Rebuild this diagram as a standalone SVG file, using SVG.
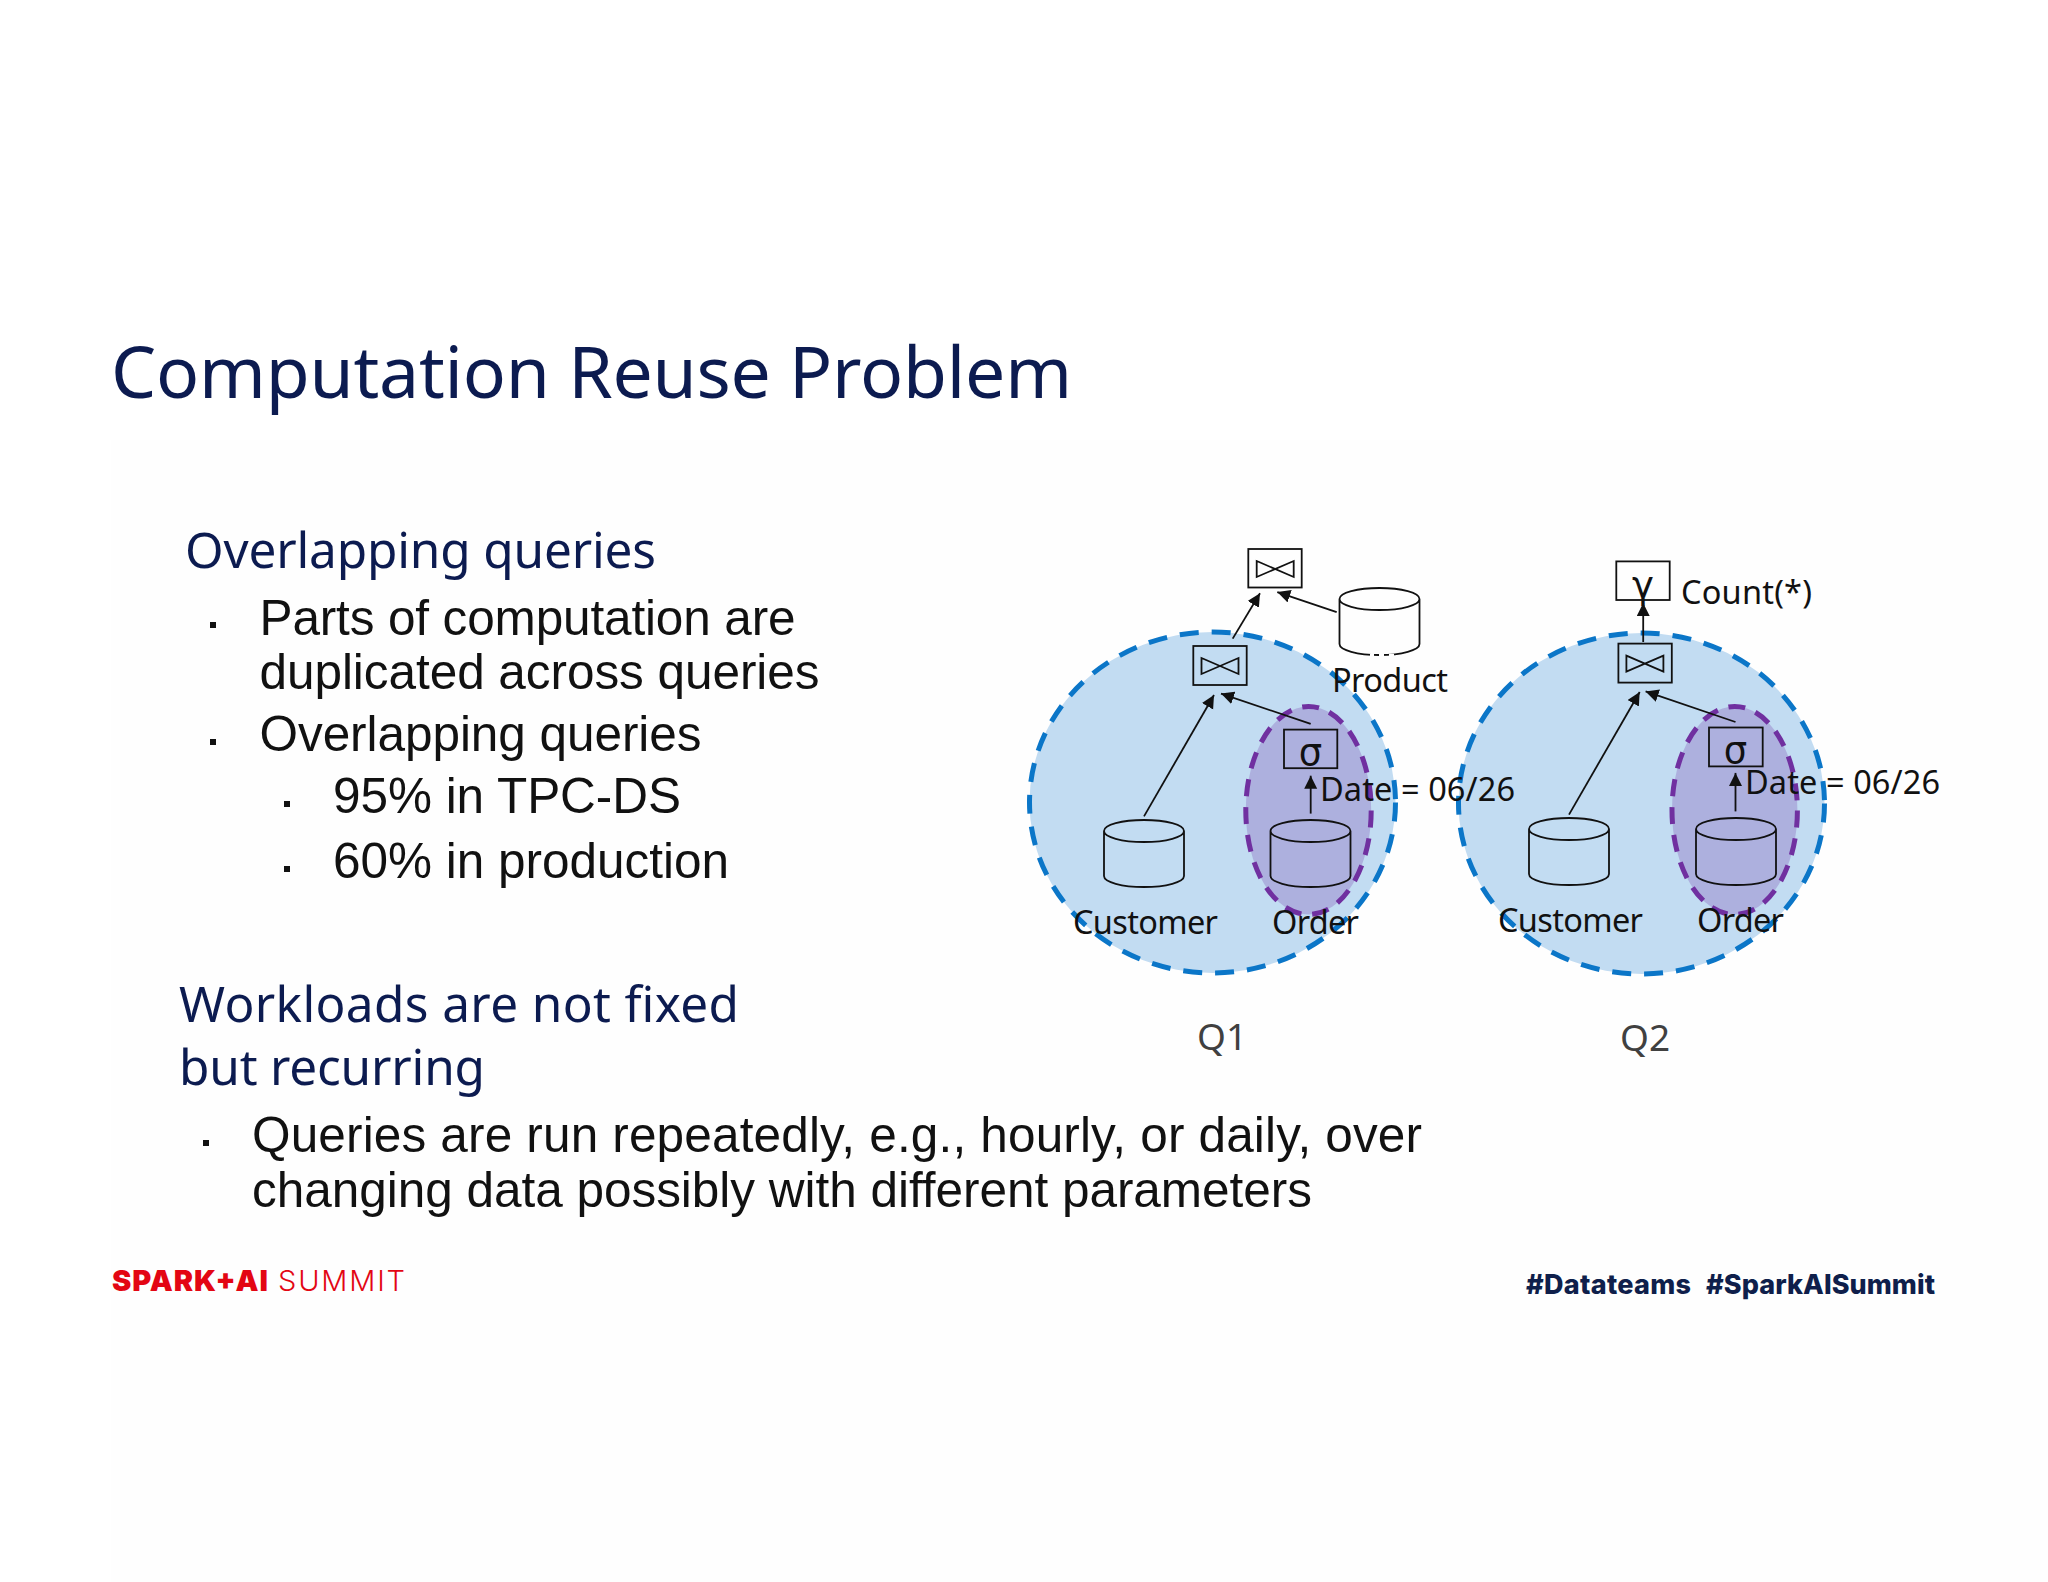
<svg xmlns="http://www.w3.org/2000/svg" width="2048" height="1582" viewBox="0 0 2048 1582">
<style>
.h{font-family:"Noto Sans","Open Sans",sans-serif;fill:#0c1b50}
.t{font-family:"Liberation Sans",Arial,sans-serif;font-size:49.5px;fill:#111}
.l{font-family:"Noto Sans","Open Sans",sans-serif;font-size:32.5px;fill:#111}
.g{font-family:"DejaVu Sans",sans-serif;font-size:37px;fill:#111;text-anchor:middle}
.q{font-family:"Noto Sans","Open Sans",sans-serif;font-size:37px;fill:#404040}
.b{fill:#111}
.big{fill:#c2dcf2;stroke:#0b76c8;stroke-width:5;stroke-dasharray:19 13}
.pur{fill:#adb0de;stroke:#7030a0;stroke-width:5;stroke-dasharray:17 11}
.box{fill:none;stroke:#111;stroke-width:1.8}
.cyl{fill:none;stroke:#111;stroke-width:1.8}
.con line{stroke:#111;stroke-width:1.8;marker-end:url(#a)}
</style>
<defs>
<marker id="a" markerUnits="userSpaceOnUse" markerWidth="14" markerHeight="14" refX="13" refY="6.5" orient="auto"><path d="M0,0L13,6.5L0,13Z" fill="#111"/></marker>
<path id="bow" class="box" d="M0,0L37,16V0L0,16Z"/>
<path id="cy" class="cyl" d="M-40,0A40,11 0 0 0 40,0A40,11 0 0 0 -40,0V45A40,11 0 0 0 40,45V0"/>
</defs>
<rect width="2048" height="1582" fill="#fff"/>
<rect x="111" y="440" width="1937" height="1142" fill="#fefefe"/>
<g id="title"><text class="h" x="111" y="398" font-size="71.5" textLength="961">Computation Reuse Problem</text></g>
<g id="left-text">
<text class="h" x="185" y="568" font-size="49.5" textLength="471">Overlapping queries</text>
<rect class="b" x="210" y="622" width="6" height="6"/>
<text class="t" x="259.5" y="635" textLength="536">Parts of computation are</text>
<text class="t" x="259.5" y="689" textLength="560">duplicated across queries</text>
<rect class="b" x="210" y="739" width="6" height="6"/>
<text class="t" x="259.5" y="751" textLength="442">Overlapping queries</text>
<rect class="b" x="284" y="801" width="6" height="6"/>
<text class="t" x="333" y="813" textLength="348">95% in TPC-DS</text>
<rect class="b" x="284" y="866" width="6" height="6"/>
<text class="t" x="333" y="878" textLength="396">60% in production</text>
<text class="h" x="179" y="1022" font-size="49.5" textLength="560">Workloads are not fixed</text>
<text class="h" x="179" y="1085" font-size="49.5" textLength="306">but recurring</text>
<rect class="b" x="203" y="1140" width="6" height="6"/>
<text class="t" x="252" y="1152" textLength="1170">Queries are run repeatedly, e.g., hourly, or daily, over</text>
<text class="t" x="252" y="1207" textLength="1060">changing data possibly with different parameters</text>
</g>
<g id="footer">
<text x="112" y="1291" font-family="Inter,sans-serif" font-weight="900" font-size="29" fill="#e30613" textLength="156">SPARK+AI</text>
<text x="278" y="1291" font-family="Inter,sans-serif" font-weight="300" font-size="29" fill="#e30613" textLength="127">SUMMIT</text>
<text x="1526" y="1294" font-family="Inter,sans-serif" font-weight="800" font-size="27" fill="#0f1f4b" textLength="165">#Datateams</text>
<text x="1706" y="1294" font-family="Inter,sans-serif" font-weight="800" font-size="27" fill="#0f1f4b" textLength="229">#SparkAISummit</text>
</g>
<g id="q1-regions">
<ellipse class="big" cx="1212.5" cy="802.5" rx="183" ry="170.5"/>
<ellipse class="pur" cx="1308.5" cy="810.5" rx="62.7" ry="104"/>
</g>
<g id="q2-regions">
<ellipse class="big" cx="1641.5" cy="803.5" rx="183" ry="170.5"/>
<ellipse class="pur" cx="1734.7" cy="810.5" rx="62.7" ry="104"/>
</g>
<g id="connectors" class="con">
<line x1="1232.7" y1="638.6" x2="1260" y2="593.2"/>
<line x1="1336.7" y1="612.1" x2="1277.3" y2="592.1"/>
<line x1="1144" y1="816.4" x2="1214" y2="695"/>
<line x1="1310.7" y1="723.9" x2="1221" y2="693.6"/>
<line x1="1310.7" y1="813.6" x2="1310.7" y2="775.7"/>
<line x1="1643.2" y1="642" x2="1643.2" y2="603"/>
<line x1="1569" y1="814.6" x2="1639.7" y2="692"/>
<line x1="1735.5" y1="722" x2="1645.6" y2="691.4"/>
<line x1="1735.5" y1="811.4" x2="1735.5" y2="772.9"/>
</g>
<g id="q1-join-top"><rect class="box" x="1248.3" y="549" width="53.4" height="38.5"/><use href="#bow" x="1256.7" y="561"/></g>
<g id="q1-product"><use href="#cy" x="1379.5" y="599"/><path d="M1370,655H1374M1379,655H1384M1389,655H1394" stroke="#fff" stroke-width="2.5"/><text class="l" x="1332" y="692" textLength="116">Product</text></g>
<g id="q1-join"><rect class="box" x="1193.3" y="646" width="53.4" height="39"/><use href="#bow" x="1201.5" y="658"/></g>
<g id="q1-sigma"><rect class="box" x="1284" y="729.6" width="53.3" height="38.6"/><text class="g" x="1310.5" y="765">σ</text></g>
<g id="q1-date"><text class="l" x="1320" y="801" textLength="195">Date = 06/26</text></g>
<g id="q1-customer"><use href="#cy" x="1144" y="831"/><text class="l" x="1073" y="934" textLength="145">Customer</text></g>
<g id="q1-order"><use href="#cy" x="1310.5" y="831"/><text class="l" x="1272" y="934" textLength="87">Order</text></g>
<g id="q1-label"><text class="q" x="1197" y="1050">Q1</text></g>
<g id="q2-gamma"><rect class="box" x="1616.3" y="561.4" width="53.4" height="38.6"/><text class="g" x="1643" y="598">γ</text><text class="l" x="1681" y="604" textLength="131">Count(*)</text></g>
<g id="q2-join"><rect class="box" x="1618.4" y="643.6" width="53.4" height="39"/><use href="#bow" x="1626.4" y="655.7"/></g>
<g id="q2-sigma"><rect class="box" x="1709" y="727.5" width="53.7" height="38.9"/><text class="g" x="1735.5" y="763">σ</text></g>
<g id="q2-date"><text class="l" x="1745" y="794" textLength="195">Date = 06/26</text></g>
<g id="q2-customer"><use href="#cy" x="1569" y="829"/><text class="l" x="1498" y="932" textLength="145">Customer</text></g>
<g id="q2-order"><use href="#cy" x="1736" y="829"/><text class="l" x="1697" y="932" textLength="87">Order</text></g>
<g id="q2-label"><text class="q" x="1620" y="1051">Q2</text></g>
</svg>
